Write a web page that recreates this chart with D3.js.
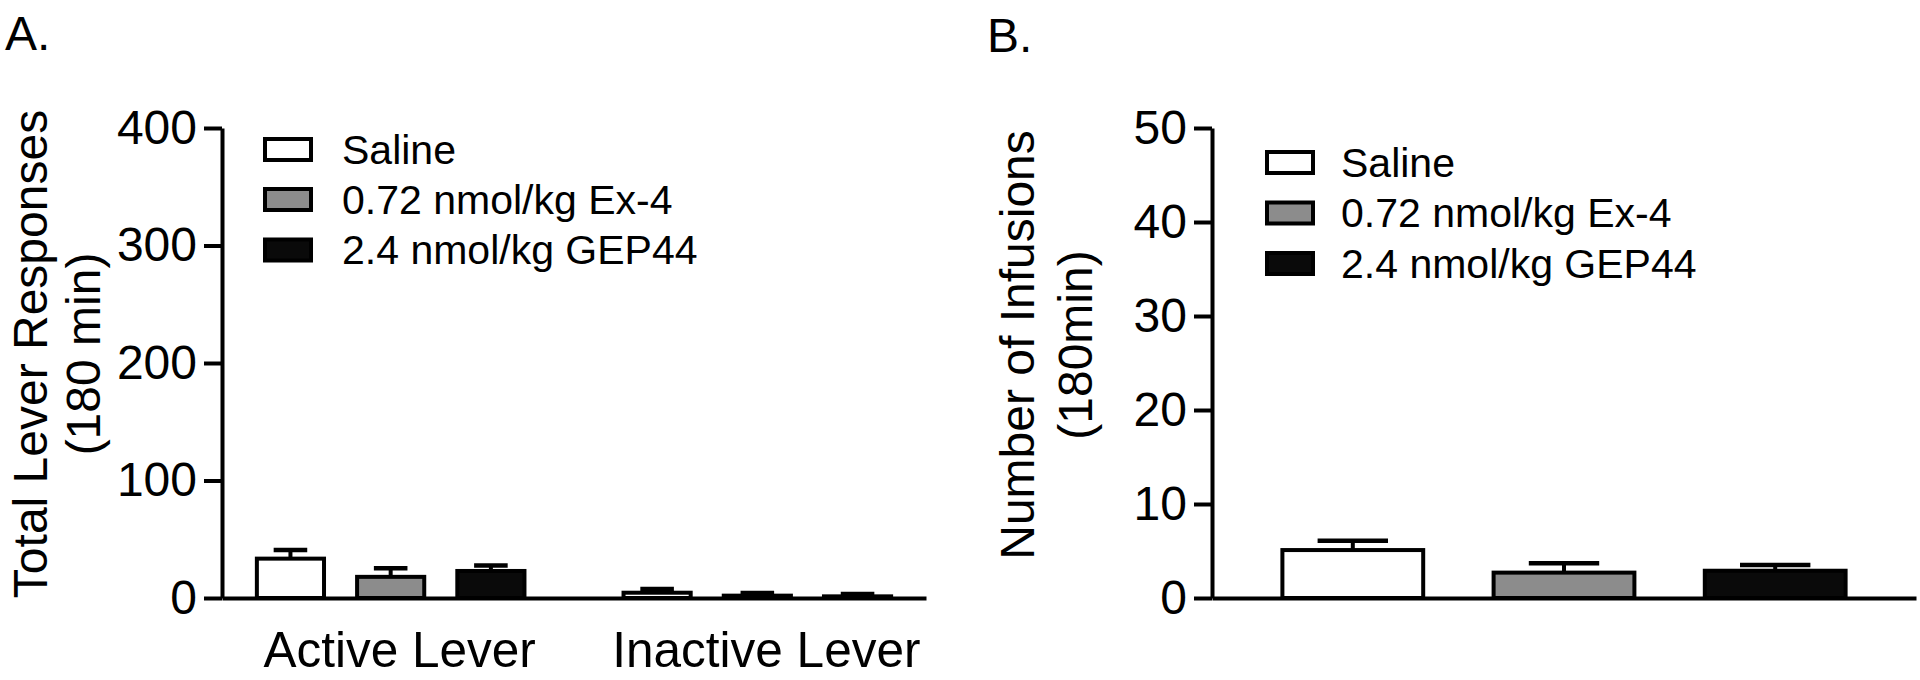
<!DOCTYPE html>
<html>
<head>
<meta charset="utf-8">
<script src="https://cdn.jsdelivr.net/npm/d3@7"></script>
<style>
  body { margin: 0; background: #fff; }
  svg text { font-family: "Liberation Sans", Arial, sans-serif; fill: #000; }
</style>
</head>
<body>
<div id="chart"></div>
<script>
// values
const groups = ["Active Lever", "Inactive Lever"];
const treatments = ["Saline", "0.72 nmol/kg Ex-4", "2.4 nmol/kg GEP44"];
const leverMeans = [[33.5, 18, 23], [4.5, 2, 1.4]];
const leverSem = [[7.3, 7.4, 4.7], [3.2, 2.3, 2.0]];
const infusionMeans = [5.1, 2.7, 2.9];
const infusionSem = [1.0, 1.0, 0.6];
const leverTicks = [0, 100, 200, 300, 400];
const infusionTicks = [0, 10, 20, 30, 40, 50];

const fills = ["#ffffff", "#8c8c8c", "#0a0a0a"];
const plotTop = 128, plotBase = 598;

const svg = d3.select("#chart")
  .append("svg")
  .attr("width", 1920)
  .attr("height", 680);

function yAxis(g, y, ticks, x) {
  g.attr("transform", `translate(${x},0)`)
    .call(d3.axisLeft(y).tickValues(ticks).tickSize(18).tickSizeOuter(0).tickPadding(7));
  g.select(".domain").attr("stroke", "#000").attr("stroke-width", 4);
  g.selectAll(".tick line").attr("stroke", "#000").attr("stroke-width", 4);
  g.selectAll(".tick text").attr("font-size", 48).attr("font-family", null);
}

function axisTitle(lines, x, y, offsets) {
  lines.forEach((t, i) => {
    svg.append("text")
      .attr("transform", `translate(${x + offsets[i]},${y}) rotate(-90)`)
      .attr("text-anchor", "middle")
      .attr("font-size", 48)
      .text(t);
  });
}

function legend(x, textX, ys) {
  treatments.forEach((t, i) => {
    svg.append("rect")
      .attr("x", x).attr("y", ys[i] - 10.5)
      .attr("width", 46).attr("height", 21)
      .attr("fill", fills[i]).attr("stroke", "#000").attr("stroke-width", 4);
    svg.append("text")
      .attr("x", textX).attr("y", ys[i] + 14)
      .attr("font-size", 41)
      .text(t);
  });
}

function bars(rows, y) {
  const g = svg.append("g");
  // error bars (upper only)
  g.selectAll(".err")
    .data(rows)
    .join("g")
    .attr("class", "err")
    .each(function(d) {
      const cx = d.x + d.w / 2;
      const sel = d3.select(this);
      sel.append("line")
        .attr("x1", cx).attr("x2", cx)
        .attr("y1", y(d.mean)).attr("y2", y(d.mean + d.sem))
        .attr("stroke", "#000").attr("stroke-width", 4);
      sel.append("line")
        .attr("x1", cx - d.w / 4).attr("x2", cx + d.w / 4)
        .attr("y1", y(d.mean + d.sem)).attr("y2", y(d.mean + d.sem))
        .attr("stroke", "#000").attr("stroke-width", 4.5);
    });
  g.selectAll("rect")
    .data(rows)
    .join("rect")
    .attr("x", d => d.x)
    .attr("y", d => y(d.mean))
    .attr("width", d => d.w)
    .attr("height", d => y(0) - y(d.mean))
    .attr("fill", d => fills[d.j])
    .attr("stroke", "#000")
    .attr("stroke-width", 4);
}

// ---- Panel A ----
const yA = d3.scaleLinear().domain([0, 400]).range([plotBase, plotTop]);
const x0 = d3.scaleBand().domain(groups).range([222, 926]).paddingInner(0.18).paddingOuter(0.05);
const x1 = d3.scaleBand().domain(treatments).range([0, x0.bandwidth()]).paddingInner(0.33).paddingOuter(0.165);

const rowsA = groups.flatMap((g, i) => treatments.map((t, j) => ({
  j, x: x0(g) + x1(t), w: x1.bandwidth(), mean: leverMeans[i][j], sem: leverSem[i][j]
})));

svg.append("text").attr("x", 5).attr("y", 50).attr("font-size", 48).text("A.");
bars(rowsA, yA);

const xAxisA = svg.append("g")
  .attr("transform", `translate(0,${plotBase})`)
  .call(d3.axisBottom(x0).tickSize(0).tickSizeOuter(0).tickPadding(34));
xAxisA.select(".domain").attr("stroke", "#000").attr("stroke-width", 4);
xAxisA.selectAll(".tick text").attr("font-size", 49.5).attr("font-family", null).attr("dx", 9);

svg.append("g").call(yAxis, yA, leverTicks, 222);
axisTitle(["Total Lever Responses", "(180 min)"], 222, 354, [-175, -122]);
legend(265, 342, [149.5, 199.5, 250]);

// ---- Panel B ----
const yB = d3.scaleLinear().domain([0, 50]).range([plotBase, plotTop]);
const xB = d3.scaleBand().domain(treatments).range([1212, 1916]).paddingInner(1 / 3).paddingOuter(1 / 3);

const rowsB = treatments.map((t, j) => ({
  j, x: xB(t), w: xB.bandwidth(), mean: infusionMeans[j], sem: infusionSem[j]
}));

svg.append("text").attr("x", 987).attr("y", 52).attr("font-size", 48).text("B.");
bars(rowsB, yB);

const xAxisB = svg.append("g")
  .attr("transform", `translate(0,${plotBase})`)
  .call(d3.axisBottom(xB).tickSize(0).tickSizeOuter(0).tickFormat(""));
xAxisB.select(".domain").attr("stroke", "#000").attr("stroke-width", 4);

svg.append("g").call(yAxis, yB, infusionTicks, 1212);
axisTitle(["Number of Infusions", "(180min)"], 1212, 345, [-178, -120]);
legend(1267, 1341, [162.5, 213, 263.5]);
</script>
</body>
</html>
